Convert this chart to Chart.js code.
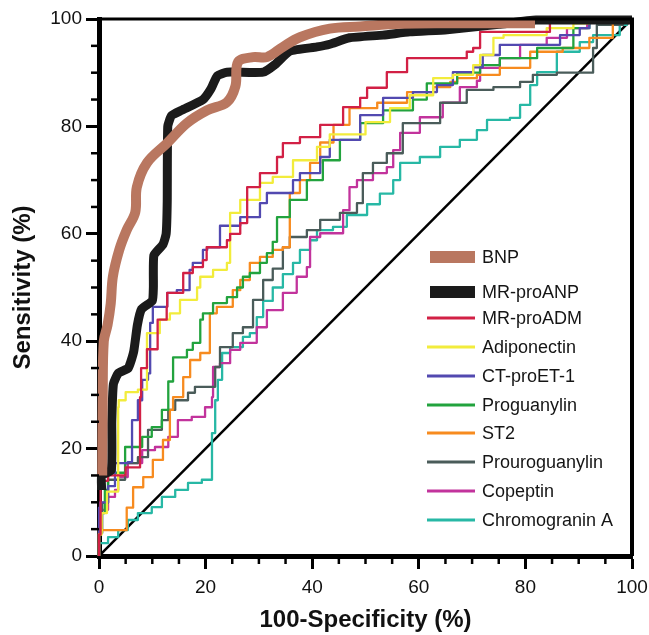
<!DOCTYPE html>
<html>
<head>
<meta charset="utf-8">
<script src="https://cdn.jsdelivr.net/npm/chart.js@4.4.0/dist/chart.umd.min.js"></script>
<style>
  html, body { margin: 0; padding: 0; background: #fff; }
  #wrap { width: 649px; height: 635px; }
</style>
</head>
<body>
<div id="wrap"><canvas id="roc" width="649" height="635"></canvas></div>
<script>
// series names and colours (legend order)
const seriesNames = ["BNP", "MR-proANP", "MR-proADM", "Adiponectin", "CT-proET-1",
  "Proguanylin", "ST2", "Prouroguanylin", "Copeptin", "Chromogranin A"];
const seriesColors = ["#b97760", "#1b1b1b", "#d22045", "#f2ec3c", "#5249b0",
  "#22a33e", "#f78b1f", "#4a5c5a", "#c2339c", "#27b8a5"];

// [100-specificity, sensitivity]
const bnpPts = [[0.6,15],[0.7,30],[0.9,40],[1.6,43],[2.2,47],[2.6,52],[3.8,57],[5.2,60.7],[6.8,64],
  [7.1,68.7],[9,73.2],[12.8,76.9],[16.5,80.6],[20.3,83],[24,84.5],[25.6,87.5],[26.1,92],[28.9,92.9],
  [31.5,92.9],[34.5,94.8],[37.7,96.6],[43.3,98.2],[49,98.6],[56.5,99.1],[65,99.2],[81.8,99.2]];
const anpPts = [[0.5,12.3],[0.5,15],[2.3,16],[2.4,25],[2.7,32],[3.6,34],[5.5,35],[6.5,38],[7.2,43],
  [8,46],[10,47.5],[10.2,50],[10.3,56],[12,58],[12.6,60],[12.8,66],[12.9,80],[13.6,82],[15.5,83],
  [19.5,85],[21,87],[22.2,89.4],[24,90.1],[30.8,90.1],[33,91.5],[35.8,94],[40.9,94.8],[43.3,95.3],
  [47,96.5],[53.3,97],[58.3,97.6],[65.3,98],[75,99],[82,99.8],[100,99.8]];
const admPts = [[0,0],[0.3,4],[0.3,8],[1.7,14],[5,15],[7.7,16.5],[7.7,22],[7.9,29.6],[9,35],[11,38.5],
  [12.7,44],[12.8,46.4],[15.8,49],[17.6,52.7],[19.5,53.8],[20.2,55.1],[24,57.5],[24.6,58.8],[26.5,60],
  [27.8,62],[27.8,66.3],[30.2,68.7],[33.4,71.3],[34.5,74.3],[37.7,76.9],[41.5,78],[45.8,80.3],[49,83.6],
  [50.3,85.3],[54,87.2],[57.8,90.1],[61.5,92.7],[69,92.7],[70.2,93.9],[71.5,94.6],[74.7,97.6],[84.6,97.6],
  [88,100],[100,100]];
const adipoPts = [[0,0],[0.5,4],[1.5,8],[3.6,12],[3.7,27.7],[5,29],[7.3,30.5],[9,31],[9,37],[11.4,41.5],
  [13.3,44],[15.2,45.2],[18.4,47.7],[19,50],[21.4,52],[24,53.3],[24.6,54.6],[24.6,58.8],[26.5,63.9],
  [30.2,66.3],[32.6,69.5],[36.4,70.6],[40.9,73.7],[43.3,76.2],[50,78.5],[54.6,80.8],[58.3,83.4],
  [62.7,85.8],[66.4,89],[70.2,89.6],[71.5,91.4],[74,93.3],[75.9,96.5],[84,97],[89,98.3],[92,99.2],
  [96,100],[100,100]];
const et1Pts = [[0,0],[0.2,9],[1.7,10],[3,13],[5.4,17.3],[6.2,17.5],[6.2,24.8],[7.3,25.3],[8.1,29],
  [9.2,32.8],[9.6,34],[10.1,43.4],[12.8,46.4],[14.6,49],[17,49.5],[17.6,53.3],[19.5,54.6],[20.3,57],
  [22.7,57.5],[22.7,60.1],[26.5,61.5],[30.2,63.1],[31.5,65.7],[36.4,67.6],[37.7,70],[41.5,71.3],
  [43.3,74.3],[49,77.5],[53.3,82.1],[58.9,85.3],[63.4,86.4],[66.4,87.7],[70.2,90.1],[72,91],[75.2,93.3],
  [86.5,95.2],[90.2,97],[92,98.3],[96.4,99.4],[100,100]];
const proguPts = [[0,0],[0.3,5],[1.1,8],[1.7,12.3],[4.9,15.5],[4.9,17.9],[8.1,20.3],[9.9,22.2],[11.8,24],
  [11.8,26.6],[13,27.2],[13.9,32.5],[16.5,37],[17.6,38.4],[19,39.7],[19.5,44],[21.4,45.2],[24,47.1],
  [25.9,48.2],[27,50],[28.3,52],[30.2,52.7],[31.5,54.6],[32.6,56.4],[33.4,58.5],[35.8,63.1],[39,66.3],
  [42,70],[45.2,73.7],[49,77.5],[53.3,80.6],[58.9,83],[61.5,85],[67.2,88],[71.5,90],[75.2,91.4],
  [82.2,92.7],[89,94.6],[92,98.3],[93.4,100],[100,100]];
const st2Pts = [[0,0],[0.2,4.8],[5.2,4.8],[6.4,9],[8.3,12.8],[10.1,14.7],[12,17.9],[13.3,21.6],[13.9,27.2],
  [15.8,29.6],[17.1,33.3],[19,36.5],[20.8,37.8],[22.1,45.2],[25.1,46.4],[26.5,49.5],[28.3,51.4],[30.2,54.6],
  [32.6,55.7],[34.5,57],[35.8,57.5],[35.8,64.4],[37.7,67.6],[39.6,70],[41.5,73.2],[44,77],[47,80.3],
  [52.2,83.4],[57.8,84.4],[62.7,86.4],[65.9,87.3],[67.2,88.3],[70.9,89],[75.2,89.6],[80.9,90.9],
  [80.9,92.7],[87,93.9],[92,94.6],[96.4,96.5],[99,99.4],[100,100]];
const prouroPts = [[0,0],[0.6,4.3],[1.7,9.9],[4.9,14.2],[7.3,17.3],[9.2,18.4],[9.2,21],[11.8,23.5],[13,25.3],
  [14.3,27.2],[16.7,29],[18,30.4],[21.8,31.5],[22.7,35.2],[25.1,38.9],[27,41.5],[28.9,42.6],[30.8,47.7],
  [30.8,50],[32.6,51.4],[34.5,53.5],[35.8,57.5],[39,59.4],[41.5,60.7],[45.2,62.6],[48.4,63.9],[49.5,65.7],
  [51.4,71.3],[54,73.2],[57,75],[64,80.6],[69,84.4],[74,86.8],[79,87.3],[81.4,88.3],[85.9,89.6],
  [92.7,90],[92.7,92],[93.4,94.6],[98.3,98.9],[100,100]];
const copeptinPts = [[0,0],[0.5,5.4],[1.7,8.6],[3,11],[3.6,12.3],[5.4,14.7],[8.1,17.3],[10.5,19.7],[13,20.3],
  [14.8,22.2],[17.4,25.3],[19.9,25.9],[21.2,27.7],[21.4,29.6],[22.7,35.2],[24.6,35.9],[26.5,38.4],
  [29.6,39.7],[31.5,42.6],[34.5,45.8],[37.1,49],[39,52],[39.6,53.8],[39.6,57],[41.5,59.4],[45.8,60.1],
  [47,64.4],[47,66.9],[48.4,68.7],[51.4,70],[54,71.3],[55.2,72.4],[56.5,75.6],[60.2,78.8],[64.5,81.7],
  [67.7,84.4],[70.9,87.3],[71.5,88.5],[75.2,90.9],[79,92.7],[84,95.2],[87.8,96.5],[91.6,98.3],[95,100],
  [100,100]];
const chromoPts = [[0,0],[1.7,2.4],[3.6,3.5],[5.4,4.8],[7.3,6.7],[9.9,8],[11.8,9.1],[14.3,11],[16.7,12.3],
  [19.3,13.6],[21.2,14.2],[21.2,18.4],[21.8,22.9],[22.3,29],[23.1,32.8],[24.6,37.8],[27,38.9],[28.3,40.8],
  [29.6,41.5],[30.8,44.5],[32.6,47.5],[34.5,50],[36.4,52.5],[37.7,54.6],[39.6,57],[40.9,58.8],[43.9,60.7],
  [46.5,61.3],[50.3,63.5],[52.7,65.5],[55.2,67.5],[56.5,70],[60.2,73.2],[64,74.3],[67.7,76.2],[70.9,77.5],
  [72.8,79.3],[77.1,81.2],[79,81.6],[80.9,84],[82.2,87.7],[85.9,90.1],[90.2,93.9],[92.7,95.7],[95.3,97],
  [97.7,97],[99,98.9],[100,100]];
const refLine = [[0,0],[100,100]];

const allPts = [bnpPts, anpPts, admPts, adipoPts, et1Pts, proguPts, st2Pts, prouroPts, copeptinPts, chromoPts];
const axisTicks = [0, 20, 40, 60, 80, 100];

const toXY = (pts) => pts.map((p) => ({ x: p[0], y: p[1] }));

const datasets = allPts.map((pts, i) => {
  const ds = {
    label: seriesNames[i],
    data: toXY(pts),
    borderColor: seriesColors[i],
    backgroundColor: seriesColors[i],
    pointRadius: 0,
    fill: false,
    clip: false,
    borderJoinStyle: "round",
  };
  if (i === 0) {
    ds.borderWidth = 10;
    ds.tension = 0.35;
    ds.borderCapStyle = "butt";
  } else if (i === 1) {
    ds.borderWidth = 9;
    ds.tension = 0.15;
    ds.borderCapStyle = "butt";
  } else {
    ds.borderWidth = 2.3;
    ds.stepped = "after";
  }
  return ds;
});
datasets.push({
  label: "ref",
  data: toXY(refLine),
  borderColor: "#000",
  borderWidth: 2.5,
  pointRadius: 0,
  fill: false,
});

// minor ticks, top/right frame and the legend
const extrasPlugin = {
  id: "extras",
  afterDraw(chart) {
    const ctx = chart.ctx;
    const a = chart.chartArea;
    const xs = chart.scales.x;
    const ys = chart.scales.y;
    ctx.save();
    ctx.strokeStyle = "#000";
    ctx.lineWidth = 2.5;
    for (let v = 5; v < 100; v += 5) {
      if (v % 20 === 0) continue;
      const px = xs.getPixelForValue(v);
      ctx.beginPath();
      ctx.moveTo(px, a.bottom);
      ctx.lineTo(px, a.bottom + 8);
      ctx.stroke();
      const py = ys.getPixelForValue(v);
      ctx.beginPath();
      ctx.moveTo(a.left, py);
      ctx.lineTo(a.left - 8, py);
      ctx.stroke();
    }
    ctx.lineWidth = 3;
    ctx.beginPath();
    ctx.moveTo(a.left, a.top);
    ctx.lineTo(a.right, a.top);
    ctx.stroke();
    ctx.lineWidth = 4;
    ctx.beginPath();
    ctx.moveTo(a.right, a.top - 1.5);
    ctx.lineTo(a.right, a.bottom);
    ctx.stroke();

    // legend
    const lx = a.left + 328;
    const rows = [257, 292, 318, 347, 376, 405, 433, 462, 491, 520];
    ctx.font = "18px 'Liberation Sans', Arial, sans-serif";
    ctx.textBaseline = "middle";
    seriesNames.forEach((name, i) => {
      const y = rows[i];
      if (i < 2) {
        ctx.fillStyle = seriesColors[i];
        ctx.fillRect(lx + 3, y - 6, 45, 12);
      } else {
        ctx.strokeStyle = seriesColors[i];
        ctx.lineWidth = 3;
        ctx.beginPath();
        ctx.moveTo(lx, y);
        ctx.lineTo(lx + 48, y);
        ctx.stroke();
      }
      ctx.fillStyle = "#151515";
      ctx.fillText(name, lx + 55, y + 1);
    });
    ctx.restore();
  },
};

const tickFont = { family: "'Liberation Sans', Arial, sans-serif", size: 19 };
const titleFont = { family: "'Liberation Sans', Arial, sans-serif", size: 24, weight: "bold" };

new Chart(document.getElementById("roc").getContext("2d"), {
  type: "line",
  data: { datasets: datasets },
  options: {
    responsive: false,
    animation: false,
    layout: { padding: { left: 0, top: 19, right: 17, bottom: 0 } },
    plugins: { legend: { display: false }, tooltip: { enabled: false } },
    scales: {
      x: {
        type: "linear",
        min: 0,
        max: 100,
        afterBuildTicks: (s) => { s.ticks = axisTicks.map((v) => ({ value: v })); },
        afterFit: (s) => { s.height = 79; s.paddingLeft = 0; s.paddingRight = 0; },
        ticks: { font: tickFont, color: "#111", padding: 7, maxRotation: 0 },
        grid: { drawOnChartArea: false, tickLength: 13, tickWidth: 3, tickColor: "#000" },
        border: { display: true, color: "#000", width: 5 },
        title: { display: true, text: "100-Specificity (%)", font: titleFont, color: "#111", padding: { top: 0, bottom: 0 } },
      },
      y: {
        type: "linear",
        min: 0,
        max: 100,
        afterBuildTicks: (s) => { s.ticks = axisTicks.map((v) => ({ value: v })); },
        afterFit: (s) => { s.width = 99; s.paddingTop = 0; s.paddingBottom = 0; },
        ticks: { font: tickFont, color: "#111", padding: 4 },
        grid: { drawOnChartArea: false, tickLength: 13, tickWidth: 3, tickColor: "#000" },
        border: { display: true, color: "#000", width: 5 },
        title: { display: true, text: "Sensitivity (%)", font: titleFont, color: "#111", padding: { top: 9, bottom: 0 } },
      },
    },
  },
  plugins: [extrasPlugin],
});
</script>
</body>
</html>
